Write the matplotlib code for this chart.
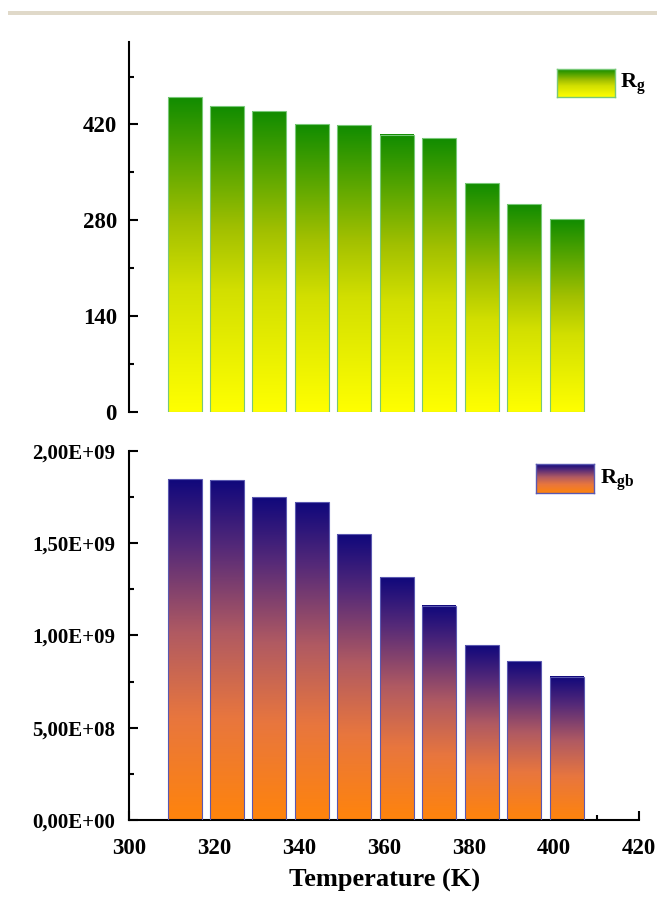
import numpy as np
import matplotlib
matplotlib.use("Agg")
import matplotlib.pyplot as plt
from matplotlib.colors import LinearSegmentedColormap
from matplotlib.patches import Rectangle
from matplotlib.ticker import MultipleLocator, FixedLocator, FixedFormatter

plt.rcParams['font.family'] = ['Liberation Serif', 'DejaVu Serif']
plt.rcParams['font.weight'] = 'bold'
plt.rcParams['mathtext.fontset'] = 'custom'
plt.rcParams['mathtext.rm'] = 'Liberation Serif:bold'
plt.rcParams['mathtext.it'] = 'Liberation Serif:bold'

# data
temps = [313, 323, 333, 343, 353, 363, 373, 383, 393, 403]
rg = [460, 447, 439, 421, 419, 405, 400, 334, 304, 281]
rgb = [1.845e9, 1.841e9, 1.748e9, 1.720e9, 1.547e9, 1.316e9, 1.159e9, 0.946e9, 0.859e9, 0.776e9]
rg_ticks = [0, 140, 280, 420]
rgb_ticks = [0, 5e8, 1e9, 1.5e9, 2e9]
rgb_ticklabels = ['0,00E+00', '5,00E+08', '1,00E+09', '1,50E+09', '2,00E+09']
x_ticks = [300, 320, 340, 360, 380, 400, 420]

green = LinearSegmentedColormap.from_list('g', [(0, '#ffff00'), (0.4, '#d2df00'),
                                                (0.6, '#a2c000'), (1, '#118c00')])
sunset = LinearSegmentedColormap.from_list('s', [(0, '#ff840c'), (0.3, '#e8763e'),
                                                 (0.55, '#b05a62'), (0.8, '#562a78'),
                                                 (1, '#10087c')])
grad = np.linspace(0, 1, 256).reshape(-1, 1)


def gradient_bars(ax, x, h, cmap, edge):
    bars = ax.bar(x, h, width=8, facecolor='none', edgecolor=edge, linewidth=0.8, zorder=3)
    for b in bars:
        x0, w, hh = b.get_x(), b.get_width(), b.get_height()
        ax.imshow(grad, extent=[x0, x0 + w, 0, hh], origin='lower', cmap=cmap,
                  aspect='auto', zorder=2)


def legend_box(rect, cmap, edge):
    lax = fig.add_axes(rect)
    lax.imshow(grad, origin='lower', cmap=cmap, aspect='auto')
    lax.set_xticks([])
    lax.set_yticks([])
    for s in lax.spines.values():
        s.set_color(edge)
        s.set_linewidth(1.0)


fig = plt.figure(figsize=(6.57, 8.99), dpi=100)
fig.add_artist(Rectangle((8 / 657, 1 - 15 / 899), 649 / 657, 4 / 899,
                         transform=fig.transFigure, color='#e0d9c9', lw=0))

W, H = 657, 899
ax1 = fig.add_axes([129.3 / W, 1 - 411.7 / H, (639 - 129.3) / W, (411.7 - 42.3) / H])
ax2 = fig.add_axes([129.3 / W, 1 - 820 / H, (639 - 129.3) / W, (820 - 450.7) / H])

gradient_bars(ax1, temps, rg, green, '#78c878')
gradient_bars(ax2, temps, rgb, sunset, '#5a58b0')

for ax in (ax1, ax2):
    ax.set_xlim(300, 420)
    ax.spines['top'].set_visible(False)
    ax.spines['right'].set_visible(False)
    ax.spines['left'].set_linewidth(1.5)
    ax.spines['bottom'].set_linewidth(1.5)
    ax.tick_params(which='major', direction='in', length=6.5, width=1.5)
    ax.tick_params(which='minor', direction='in', length=3.5, width=1.5)

ax1.set_ylim(0, 540)
ax1.spines['bottom'].set_visible(False)
ax1.set_xticks([])
ax1.yaxis.set_major_locator(FixedLocator(rg_ticks))
ax1.yaxis.set_minor_locator(MultipleLocator(70))
ax1.tick_params(axis='y', labelsize=16.5, pad=9)

ax2.set_ylim(0, 2e9)
ax2.yaxis.set_major_locator(FixedLocator(rgb_ticks))
ax2.yaxis.set_major_formatter(FixedFormatter(rgb_ticklabels))
ax2.yaxis.set_minor_locator(MultipleLocator(2.5e8))
ax2.tick_params(axis='y', labelsize=15, pad=10)
ax2.xaxis.set_major_locator(FixedLocator(x_ticks))
ax2.xaxis.set_minor_locator(MultipleLocator(10))
ax2.tick_params(axis='x', labelsize=16.5, pad=13)
ax2.set_xlabel('Temperature (K)', fontsize=19, fontweight='bold', labelpad=7)

legend_box([557.3 / W, 1 - 97.3 / H, 57.7 / W, 28 / H], green, '#78c878')
fig.text(620 / W, 1 - 84 / H, r'$\mathrm{R_g}$', fontsize=16, va='center', ha='left')
legend_box([536 / W, 1 - 492.7 / H, 58 / W, 28.4 / H], sunset, '#5a58b0')
fig.text(600 / W, 1 - 480 / H, r'$\mathrm{R_{gb}}$', fontsize=16, va='center', ha='left')

fig.savefig('out.png', dpi=100)
